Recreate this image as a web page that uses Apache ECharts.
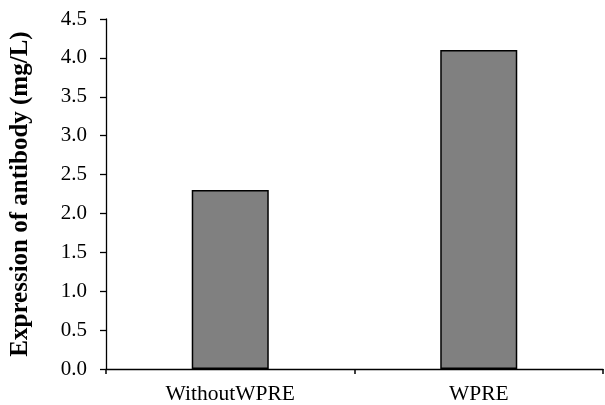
<!DOCTYPE html>
<html>
<head>
<meta charset="utf-8">
<script src="https://cdn.jsdelivr.net/npm/echarts@6/dist/echarts.min.js"></script>
<style>html,body{margin:0;padding:0;background:#fff}#c{width:605px;height:405px}</style>
</head>
<body>
<div id="c"></div>
<script>
var categories = ['WithoutWPRE', 'WPRE'];
var values = [2.3, 4.1];
var yAxisTitle = 'Expression of antibody (mg/L)';

var chart = echarts.init(document.getElementById('c'), null, {renderer: 'canvas'});
chart.setOption({
  animation: false,
  backgroundColor: '#ffffff',
  grid: {left: 106, right: 2, top: 19, bottom: 36, containLabel: false},
  xAxis: {
    type: 'category',
    data: categories,
    axisLine: {lineStyle: {color: '#000', width: 1.3}},
    axisTick: {show: true, inside: false, length: 5, alignWithLabel: false, lineStyle: {color: '#000', width: 1.5}},
    axisLabel: {color: '#000', fontFamily: 'Liberation Serif', fontSize: 21.5, margin: 14},
    splitLine: {show: false}
  },
  yAxis: {
    type: 'value',
    min: 0, max: 4.5, interval: 0.5,
    name: yAxisTitle,
    nameLocation: 'middle',
    nameGap: 73,
    nameTextStyle: {color: '#000', fontFamily: 'Liberation Serif', fontSize: 25, fontWeight: 'bold'},
    axisLine: {show: true, lineStyle: {color: '#000', width: 1.3}},
    axisTick: {show: true, inside: false, length: 6, lineStyle: {color: '#000', width: 1.3}},
    axisLabel: {color: '#000', fontFamily: 'Liberation Serif', fontSize: 21, margin: 19,
      formatter: function (v) { return v.toFixed(1); }},
    splitLine: {show: false}
  },
  series: [{
    type: 'bar',
    data: values,
    barWidth: '31%',
    itemStyle: {color: '#808080', borderColor: '#000', borderWidth: 1.5}
  }]
});
</script>
</body>
</html>
